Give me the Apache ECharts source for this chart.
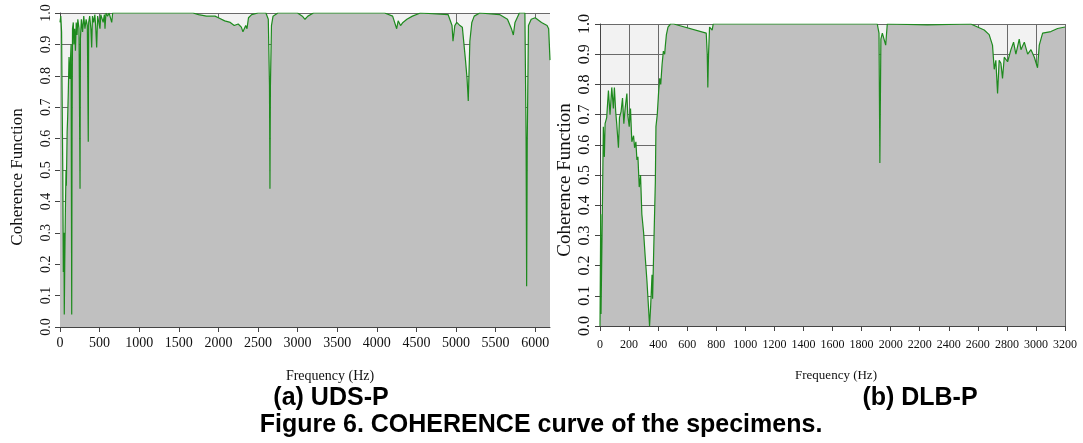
<!DOCTYPE html>
<html>
<head>
<meta charset="utf-8">
<script src="https://cdn.jsdelivr.net/npm/echarts@6/dist/echarts.min.js"></script>
<style>
html,body{margin:0;padding:0;background:#fff;}
#main{width:1083px;height:443px;}
</style>
</head>
<body>
<div id="main"></div>
<script>
// (a) UDS-P
var udsFreq = [0,10,20,25,35,42,50,54,60,68,76,80,85,90,97,105,114,120,126,132,140,148,152,158,168,175,185,195,205,215,225,240,253,258,270,285,300,315,330,345,357,362,375,390,400,410,425,440,450,463,475,490,505,515,530,545,560,568,580,600,620,653,665,
  700,1000,1300,1680,1750,1850,1957,2000,2080,2150,2200,2250,2290,2310,2330,2345,2361,2380,2420,2500,2600,2630,2645,2651,2657,2670,2690,2750,3000,3060,3093,3130,3200,
  4100,4200,4251,4270,4300,4330,4380,4450,4550,4900,4950,4962,4985,5010,5050,5080,5120,5140,5155,5175,5200,5230,5300,5550,5650,5700,5724,5745,5800,5870,5885,5892,5900,5915,5950,6000,6080,6150,6170,6187];
var udsCoh = [0.97,0.99,0.94,0.78,0.5,0.175,0.3,0.04,0.2,0.37,0.5,0.45,0.53,0.62,0.67,0.75,0.86,0.8,0.79,0.85,0.9,0.04,0.6,0.95,0.97,0.9,0.95,0.88,0.97,0.93,0.98,0.95,0.44,0.92,0.98,0.94,0.99,0.95,0.98,0.96,0.59,0.97,0.99,0.95,0.89,0.99,0.97,0.995,0.96,0.89,0.99,0.97,0.95,0.995,0.99,0.97,0.995,0.95,1.0,0.99,1.0,0.97,1.0,
  1.0,1.0,1.0,1.0,0.995,0.99,0.99,0.985,0.975,0.97,0.96,0.965,0.955,0.94,0.935,0.96,0.95,0.985,0.995,1.0,1.0,0.98,0.77,0.44,0.77,0.96,0.99,1.0,1.0,0.99,0.98,0.99,1.0,
  1.0,0.99,0.95,0.975,0.96,0.97,0.98,0.99,1.0,0.995,0.96,0.91,0.96,0.97,0.96,0.955,0.85,0.79,0.72,0.91,0.97,0.99,1.0,0.995,0.98,0.95,0.93,0.97,1.0,1.0,0.6,0.13,0.6,0.96,0.98,0.985,0.97,0.96,0.95,0.85];

// (b) DLB-P
var dlbFreq = [0,5,7,16,23,30,35,46,58,69,81,92,99,108,115,127,134,145,155,164,173,185,191,201,210,219,231,238,247,254,261,270,279,288,300,311,323,334,341,348,358,362,371,381,385,394,404,411,418,427,436,445,450,457,468,485,508,
  731,738,742,747,754,761,772,779,1908,1920,1926,1933,1943,1954,1966,1977,2253,2552,2598,2644,2678,2701,2713,2724,2736,2747,2759,2770,2782,2805,2828,2846,2862,2885,2897,2920,2943,2966,2989,3011,3023,3046,3103,3149,3200];
var dlbCoh = [0.0,0.37,0.04,0.37,0.66,0.56,0.67,0.69,0.78,0.7,0.79,0.72,0.79,0.71,0.67,0.59,0.69,0.71,0.755,0.67,0.72,0.77,0.7,0.66,0.72,0.61,0.63,0.59,0.61,0.55,0.56,0.46,0.5,0.37,0.31,0.23,0.15,0.06,0.0,0.06,0.17,0.09,0.28,0.48,0.66,0.7,0.78,0.82,0.8,0.865,0.91,0.9,0.93,0.965,0.99,1.0,1.0,
  0.97,0.9,0.79,0.9,0.99,0.99,0.98,1.0,1.0,0.97,0.54,0.95,0.97,0.97,0.93,1.0,0.997,1.0,0.99,0.98,0.965,0.93,0.85,0.88,0.77,0.88,0.87,0.82,0.89,0.875,0.915,0.94,0.9,0.95,0.915,0.94,0.9,0.915,0.89,0.855,0.93,0.97,0.975,0.985,0.99];

var udsTicks = [0,500,1000,1500,2000,2500,3000,3500,4000,4500,5000,5500,6000];

function pairs(xs, ys) {
    var out = [];
    for (var i = 0; i < xs.length; i++) { out.push([xs[i], ys[i]]); }
    return out;
}

var serif = 'Liberation Serif';

function plain(v) { return String(v); }

function yAxisOpt(idx, fs) {
    return {
        type: 'value', gridIndex: idx, min: 0, max: 1, interval: 0.1,
        axisLine: {show: true, lineStyle: {color: '#444', width: 1}},
        axisTick: {show: true, length: 5, lineStyle: {color: '#444'}},
        axisLabel: {rotate: 90, margin: 7, color: '#111', fontFamily: serif, fontSize: fs,
            formatter: function (v) { return v.toFixed(1); }},
        splitLine: {show: true, lineStyle: {color: '#6a6a6a', width: 1}}
    };
}

var myChart = echarts.init(document.getElementById('main'));

var option = {
    backgroundColor: '#fff',
    animation: false,
    grid: [
        {left: 60, right: 533, top: 13, bottom: 116, show: true, backgroundColor: '#f2f2f2', borderWidth: 0},
        {left: 600, right: 18, top: 24, bottom: 117, show: true, backgroundColor: '#f2f2f2', borderWidth: 0}
    ],
    xAxis: [
        {
            type: 'value', gridIndex: 0, min: 0, max: 6187,
            axisLine: {show: true, onZero: false, lineStyle: {color: '#444'}},
            axisTick: {show: true, length: 5, customValues: udsTicks, lineStyle: {color: '#444'}},
            axisLabel: {customValues: udsTicks, margin: 9, color: '#111', fontFamily: serif, fontSize: 14, formatter: plain},
            splitLine: {show: true, lineStyle: {color: '#6a6a6a'}}
        },
        {
            type: 'value', gridIndex: 1, min: 0, max: 3200, interval: 200,
            axisLine: {show: true, onZero: false, lineStyle: {color: '#444'}},
            axisTick: {show: true, length: 5, lineStyle: {color: '#444'}},
            axisLabel: {interval: 0, margin: 13, color: '#111', fontFamily: serif, fontSize: 12, formatter: plain},
            splitLine: {show: true, lineStyle: {color: '#6a6a6a'}}
        }
    ],
    yAxis: [yAxisOpt(0, 14), yAxisOpt(1, 16)],
    series: [
        {
            type: 'line', xAxisIndex: 0, yAxisIndex: 0, showSymbol: false,
            data: pairs(udsFreq, udsCoh),
            lineStyle: {color: '#1e8a1e', width: 1.2},
            itemStyle: {color: '#1e8a1e'},
            areaStyle: {color: '#c0c0c0', opacity: 1}
        },
        {
            type: 'line', xAxisIndex: 1, yAxisIndex: 1, showSymbol: false,
            data: pairs(dlbFreq, dlbCoh),
            lineStyle: {color: '#1e8a1e', width: 1.2},
            itemStyle: {color: '#1e8a1e'},
            areaStyle: {color: '#c0c0c0', opacity: 1}
        }
    ],
    graphic: [
        {type: 'text', x: 18, y: 177, rotation: Math.PI / 2,
            style: {text: 'Coherence Function', font: '17px "Liberation Serif"', fill: '#111', align: 'center', verticalAlign: 'middle'}},
        {type: 'text', x: 565, y: 180, rotation: Math.PI / 2,
            style: {text: 'Coherence Function', font: '19px "Liberation Serif"', fill: '#111', align: 'center', verticalAlign: 'middle'}},
        {type: 'text', x: 330, y: 376,
            style: {text: 'Frequency (Hz)', font: '14px "Liberation Serif"', fill: '#111', align: 'center', verticalAlign: 'middle'}},
        {type: 'text', x: 836, y: 376,
            style: {text: 'Frequency (Hz)', font: '13px "Liberation Serif"', fill: '#111', align: 'center', verticalAlign: 'middle'}},
        {type: 'text', x: 331, y: 398,
            style: {text: '(a) UDS-P', font: 'bold 25px "Liberation Sans"', fill: '#000', align: 'center', verticalAlign: 'middle'}},
        {type: 'text', x: 920, y: 398,
            style: {text: '(b) DLB-P', font: 'bold 25px "Liberation Sans"', fill: '#000', align: 'center', verticalAlign: 'middle'}},
        {type: 'text', x: 541, y: 425,
            style: {text: 'Figure 6. COHERENCE curve of the specimens.', font: 'bold 25px "Liberation Sans"', fill: '#000', align: 'center', verticalAlign: 'middle'}}
    ]
};

myChart.setOption(option);
</script>
</body>
</html>
